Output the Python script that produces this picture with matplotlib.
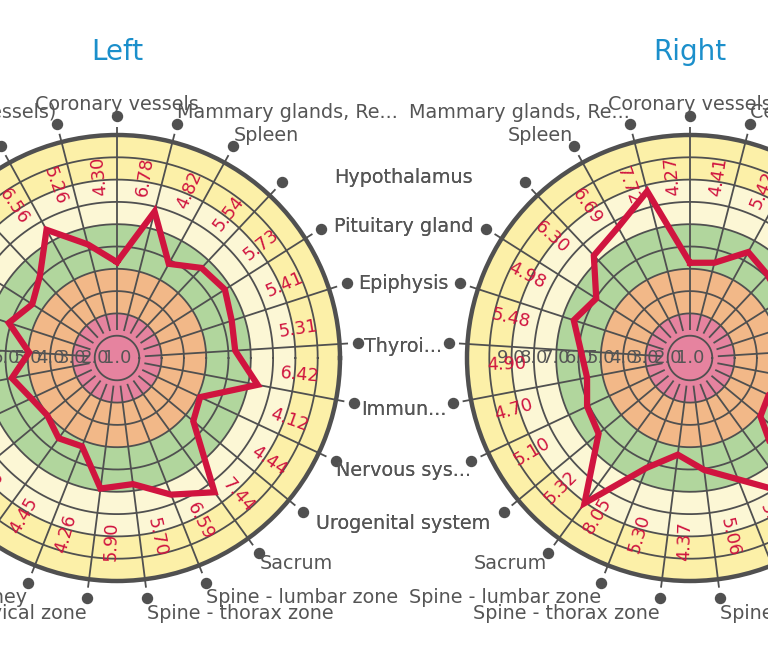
import numpy as np
import matplotlib.pyplot as plt
from matplotlib.transforms import offset_copy

plt.rcParams['font.family'] = ['DejaVu Sans']

# ---------------- data ----------------
categories = [
    "Coronary vessels", "Mammary glands, Re...", "Spleen", "Hypothalamus",
    "Pituitary gland", "Epiphysis", "Thyroi...", "Immun...", "Nervous sys...",
    "Urogenital system", "Sacrum", "Spine - lumbar zone", "Spine - thorax zone",
    "Spine - cervical zone", "Kidney", "Liver", "Lungs", "Stomach", "Pancreas",
    "Gallbladder", "Small intestine", "Heart", "Adrenal glands",
    "Large intestine", "Cerebral vessels (Brain vessels)",
]
values_left = [4.30, 6.78, 4.82, 5.54, 5.73, 5.41, 5.31, 6.42, 4.12, 4.44,
               7.44, 6.59, 5.70, 5.90, 4.26, 4.45, 4.05, 4.25, 4.80, 3.95,
               5.10, 4.50, 5.05, 6.56, 5.26]
values_right = [4.27, 7.72, 6.69, 6.30, 4.98, 5.48, 4.90, 4.70, 5.10, 5.32,
                8.05, 5.30, 4.37, 5.06, 5.85, 7.50, 4.10, 3.90, 4.60, 5.00,
                5.20, 4.80, 5.10, 5.42, 4.41]
radial_tick_labels = ["1.0", "2.0", "3.0", "4.0", "5.0", "6.0", "7.0", "8.0", "9.0"]
band_edges = [0, 2, 4, 6, 8, 10]
band_colors = ["#E6839F", "#F2B888", "#B1D69D", "#FCF7D5", "#FCF0A8"]
titles = ["Left", "Right"]

# ---------------- style ----------------
W, H = 768, 658
GRID = "#505050"
RED = "#D0143F"
TXT = "#555555"
TITLE_C = "#1B8FCB"
RMAX = 10.0
R_PX = 223
PX_PER_UNIT = R_PX / RMAX
centers = [(117, 358), (690, 358)]
MID_X = (centers[0][0] + centers[1][0]) / 2.0

fig = plt.figure(figsize=(W / 100, H / 100), dpi=100)
fig.patch.set_facecolor("white")


def make_axes(cx, cy, R):
    return fig.add_axes([(cx - R) / W, 1 - (cy + R) / H, 2 * R / W, 2 * R / H],
                        projection="polar")


def draw_chart(ax, values, direction):
    n = len(values)
    step = 360.0 / n
    phis = np.array([90 + direction * step * k for k in range(n)])
    th = np.deg2rad(phis)

    ax.set_ylim(0, RMAX)
    ax.set_xticks([])
    ax.set_yticks([])
    ax.grid(False)
    ax.patch.set_alpha(0)
    ax.spines["polar"].set_linewidth(3.2)
    ax.spines["polar"].set_color(GRID)
    ax.spines["polar"].set_zorder(6)

    # colored bands
    for i, col in enumerate(band_colors):
        ax.bar(0, band_edges[i + 1] - band_edges[i], width=2 * np.pi,
               bottom=band_edges[i], color=col, edgecolor="none", zorder=1)

    # rings
    tt = np.linspace(0, 2 * np.pi, 400)
    for r in range(1, 10):
        ax.plot(tt, np.full_like(tt, r), color=GRID, lw=1.3, zorder=3)

    # spokes (with short outer ticks)
    for t in th:
        ax.plot([t, t], [1.25, RMAX + 0.38], color=GRID, lw=1.3, zorder=3,
                clip_on=False, solid_capstyle="butt")

    # dots
    r_dot = RMAX + 0.83
    ax.plot(th, np.full(n, r_dot), "o", color=GRID, ms=7.2,
            clip_on=False, zorder=6)

    # data line
    ax.plot(np.append(th, th[0]), np.append(values, values[0]), color=RED,
            lw=4.5, zorder=5, solid_joinstyle="miter")

    # data value labels
    for phi, v in zip(phis, values):
        a = phi % 360
        pl = phi + 5.5
        rot = pl - 180 if (90 < a <= 270) else pl
        ax.text(np.deg2rad(pl), 8.22, f"{v:.2f}", color=RED, fontsize=12.8,
                rotation=rot, rotation_mode="anchor", ha="center", va="center",
                zorder=7)

    # radial tick labels
    for i, s in enumerate(radial_tick_labels):
        ax.text(np.pi, i, s, color=TXT, fontsize=13, ha="center",
                va="center", zorder=4)

    # category labels
    r_lab = RMAX + 1.38
    for phi, name in zip(phis, categories):
        c = np.cos(np.deg2rad(phi))
        s = np.sin(np.deg2rad(phi))
        facing = (-direction) * c
        if facing > 0.65:
            # labels in the gap between the two charts are centred there
            _, yd = ax.transData.transform((np.deg2rad(phi), r_lab))
            fig.text(MID_X / W, (yd - 4) / H, name, color=TXT, fontsize=13.8,
                     ha="center", va="center", zorder=8)
            continue
        dy = -4 if s < -0.85 else 0
        if abs(c) < 0.05:
            ha, dx = "center", 0
        else:
            ha = "left" if c > 0 else "right"
            # horizontal anchor sits at the dot's x position
            dx = -(r_lab - r_dot - 0.05) * PX_PER_UNIT * c
        tr = offset_copy(ax.transData, fig=fig, x=dx, y=dy, units="dots")
        ax.text(np.deg2rad(phi), r_lab, name, color=TXT, fontsize=13.8,
                ha=ha, va="center", transform=tr, clip_on=False, zorder=8)


ax_l = make_axes(centers[0][0], centers[0][1], R_PX)
draw_chart(ax_l, values_left, -1)
ax_r = make_axes(centers[1][0], centers[1][1], R_PX)
draw_chart(ax_r, values_right, +1)

for (cx, cy), t in zip(centers, titles):
    fig.text(cx / W, 1 - 52 / H, t, color=TITLE_C, fontsize=20,
             ha="center", va="center")

fig.savefig("out.png", dpi=100, facecolor="white")
